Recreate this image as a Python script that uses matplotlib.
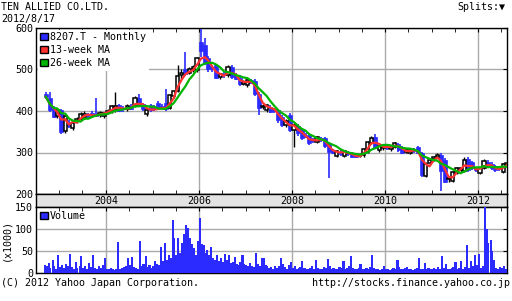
import numpy as np
import pandas as pd
import matplotlib
matplotlib.use("Agg")
import matplotlib.pyplot as plt
from matplotlib.patches import Patch

plt.rcParams["font.family"] = ["DejaVu Sans Mono", "DejaVu Sans"]
plt.rcParams["font.size"] = 7.2

# monthly candles, 2002-09 .. 2012-08
opens = [440, 431, 407, 388, 402, 352, 372, 359, 375, 381,
         383, 392, 395, 393, 390, 388, 396, 400, 402, 414,
         408, 404, 412, 414, 431, 416, 392, 414, 410, 419,
         412, 419, 407, 436, 448, 486, 500, 492, 500, 499,
         566, 560, 528, 505, 511, 482, 490, 487, 506, 487,
         480, 465, 463, 474, 472, 442, 410, 402, 410, 404,
         403, 386, 366, 390, 354, 364, 354, 340, 342, 330,
         325, 334, 335, 323, 305, 292, 302, 292, 300, 299,
         298, 292, 294, 301, 323, 337, 306, 310, 314, 308,
         313, 320, 313, 302, 299, 306, 313, 299, 244, 275,
         284, 289, 294, 282, 235, 231, 251, 258, 255, 284,
         276, 262, 251, 263, 278, 272, 268, 262, 253, 270]
highs = [446, 446, 412, 406, 405, 392, 378, 376, 385, 398,
         400, 396, 400, 432, 400, 398, 404, 414, 446, 418,
         412, 416, 418, 436, 440, 420, 408, 418, 414, 424,
         418, 452, 442, 450, 511, 500, 542, 505, 512, 530,
         598, 575, 532, 512, 514, 492, 494, 512, 510, 492,
         486, 474, 480, 478, 476, 446, 416, 418, 414, 408,
         406, 390, 380, 394, 370, 368, 358, 346, 346, 334,
         340, 338, 338, 326, 308, 306, 306, 306, 304, 302,
         300, 298, 310, 328, 340, 345, 318, 318, 318, 318,
         326, 324, 316, 308, 312, 310, 316, 302, 276, 286,
         292, 298, 298, 286, 242, 256, 266, 266, 290, 288,
         280, 266, 266, 284, 282, 276, 270, 266, 274, 278]
lows = [430, 398, 384, 384, 345, 348, 360, 355, 370, 378,
        380, 384, 386, 385, 386, 384, 392, 396, 398, 398,
        398, 400, 402, 410, 410, 400, 388, 398, 400, 402,
        404, 400, 404, 432, 445, 478, 485, 488, 495, 495,
        530, 512, 495, 495, 476, 478, 480, 482, 478, 474,
        460, 462, 458, 464, 436, 390, 404, 398, 394, 396,
        370, 362, 362, 350, 313, 340, 330, 334, 318, 322,
        322, 326, 312, 239, 296, 288, 292, 288, 292, 286,
        286, 288, 290, 298, 320, 308, 302, 306, 306, 304,
        310, 302, 296, 298, 296, 300, 296, 242, 240, 272,
        280, 286, 207, 226, 230, 228, 248, 252, 252, 254,
        258, 254, 248, 260, 262, 258, 254, 256, 250, 268]
closes = [434, 402, 386, 402, 350, 388, 364, 371, 381, 393,
          392, 388, 390, 389, 396, 396, 400, 411, 412, 401,
          404, 412, 406, 432, 414, 404, 403, 403, 405, 407,
          410, 404, 439, 448, 484, 492, 490, 501, 505, 528,
          545, 516, 502, 500, 480, 488, 486, 506, 482, 478,
          464, 470, 475, 468, 440, 408, 412, 414, 398, 400,
          378, 366, 376, 354, 366, 347, 335, 338, 323, 328,
          337, 330, 316, 301, 300, 304, 296, 304, 296, 289,
          290, 294, 308, 325, 335, 311, 316, 314, 310, 316,
          323, 306, 299, 305, 306, 304, 299, 246, 272, 282,
          288, 294, 255, 229, 238, 253, 263, 262, 282, 258,
          262, 258, 263, 280, 266, 262, 258, 260, 272, 275]

# volume (x1000), twice a month
volume = [18, 15, 22, 12, 30, 15, 10, 40, 14, 18, 12, 20, 16, 44, 14, 10, 25, 12, 15, 38,
          12, 16, 10, 22, 14, 42, 12, 10, 15, 12, 18, 34, 10, 8, 12, 10, 6, 8, 70, 10,
          12, 14, 16, 34, 18, 37, 14, 12, 10, 72, 16, 20, 38, 14, 18, 12, 16, 27, 20, 18,
          58, 28, 69, 30, 42, 35, 121, 80, 40, 80, 45, 68, 89, 110, 102, 80, 65, 57, 40, 73,
          125, 65, 63, 45, 53, 40, 58, 35, 30, 42, 28, 34, 25, 43, 30, 42, 22, 25, 37, 20,
          18, 25, 42, 20, 18, 15, 22, 16, 14, 45, 20, 15, 34, 35, 18, 15, 12, 14, 10, 16,
          12, 15, 33, 20, 14, 10, 18, 25, 12, 15, 10, 12, 14, 28, 12, 10, 8, 12, 15, 10,
          30, 12, 10, 8, 14, 12, 32, 15, 10, 12, 8, 10, 14, 12, 27, 10, 12, 15, 38, 12,
          10, 8, 12, 20, 10, 8, 12, 10, 14, 42, 12, 8, 10, 6, 10, 15, 8, 10, 6, 10,
          12, 10, 30, 14, 8, 10, 12, 14, 10, 8, 6, 10, 12, 33, 10, 8, 22, 10, 12, 8,
          10, 12, 8, 14, 10, 38, 12, 20, 10, 8, 12, 14, 25, 10, 12, 27, 10, 14, 64, 12,
          28, 15, 42, 18, 44, 12, 16, 150, 100, 68, 76, 50, 30, 12, 10, 14, 12, 15, 10, 14]

year_labels = ["2004", "2006", "2008", "2010", "2012"]
price_ticks = [200, 300, 400, 500, 600]
vol_ticks = [0, 50, 100, 150]

blue = "#2b2bff"
red = "#ff3030"
green = "#00b400"
grid_c = "#aaaaaa"

months = pd.date_range("2002-09-01", periods=len(closes), freq="MS") + pd.Timedelta(days=15)
vdates = pd.date_range("2002-09-01", periods=len(volume), freq="SMS") + pd.Timedelta(days=7)
df = pd.DataFrame({"o": opens, "h": highs, "l": lows, "c": closes}, index=months)
ma13 = df["c"].rolling(3, min_periods=1).mean()
ma26 = df["c"].rolling(6, min_periods=1).mean()

fig = plt.figure(figsize=(5.12, 3.01), dpi=100)
W, H = 512, 301
ax = fig.add_axes([36 / W, 1 - 194 / H, 471 / W, 166 / H])
band = fig.add_axes([36 / W, 1 - 207 / H, 471 / W, 13 / H], sharex=ax)
axv = fig.add_axes([36 / W, 1 - 273 / H, 471 / W, 66 / H], sharex=ax)

x0 = pd.Timestamp("2002-08-22")
x1 = pd.Timestamp("2012-08-15")
years = [pd.Timestamp(f"{y}-01-01") for y in year_labels]
halfyears = pd.date_range("2002-07-01", "2012-12-31", freq="6MS")

up = df["c"] >= df["o"]
down = ~up
# wicks
ax.vlines(df.index[up], df["l"][up], df["h"][up], color="black", lw=1, zorder=3)
ax.vlines(df.index[down], df["l"][down], df["h"][down], color=blue, lw=1.2, zorder=3)
# bodies
body_lo = df[["o", "c"]].min(axis=1)
body_h = (df["c"] - df["o"]).abs().clip(lower=2)
ax.bar(df.index[down], body_h[down], bottom=body_lo[down], width=31,
       color=blue, edgecolor=blue, lw=0.5, zorder=4)
ax.bar(df.index[up], body_h[up], bottom=body_lo[up], width=26,
       color="white", edgecolor="black", lw=1.1, zorder=4)
ax.plot(months, ma13, color=red, lw=1.6, zorder=5)
ax.plot(months, ma26, color=green, lw=1.6, zorder=5)

ax.set_ylim(200, 600)
ax.set_yticks(price_ticks)
ax.set_xlim(x0, x1)
ax.set_xticks(years)
ax.set_xticks(halfyears, minor=True)
ax.grid(True, color=grid_c, lw=1)
ax.set_axisbelow(True)
ax.tick_params(axis="x", which="both", direction="in", top=True, bottom=True,
               length=3, labelbottom=False, color="black")
ax.tick_params(axis="y", direction="in", right=True, left=False, length=3, pad=2)

handles = [Patch(facecolor=blue, edgecolor="black"),
           Patch(facecolor=red, edgecolor="black"),
           Patch(facecolor=green, edgecolor="black")]
leg = ax.legend(handles, ["8207.T - Monthly", "13-week MA", "26-week MA"],
                loc="upper left", handlelength=0.75, handleheight=0.75,
                handletextpad=0.25, labelspacing=0.3, borderaxespad=0.15,
                borderpad=0.25, frameon=True, fancybox=False, framealpha=1,
                edgecolor="none", facecolor="white")
leg.set_zorder(10)

# year band
band.set_facecolor("#e3e3e3")
band.set_ylim(0, 1)
band.set_yticks([])
band.tick_params(axis="x", which="both", length=0, labelbottom=False)
for lab, d in zip(year_labels, years):
    band.text(d, 0.45, lab, ha="center", va="center", fontsize=7.2)

# volume
axv.bar(vdates, volume, width=16.5, color=blue, lw=0, antialiased=False, zorder=3)
axv.set_ylim(0, 150)
axv.set_yticks(vol_ticks)
axv.grid(True, color=grid_c, lw=1)
axv.set_axisbelow(True)
axv.tick_params(axis="x", which="both", direction="in", top=True, bottom=True,
                length=3, labelbottom=False)
axv.tick_params(axis="y", direction="in", right=True, left=False, length=3, pad=2)
axv.legend([Patch(facecolor=blue, edgecolor="black")], ["Volume"], loc="upper left",
           handlelength=0.75, handleheight=0.75, handletextpad=0.25,
           borderaxespad=0.15, borderpad=0.25, frameon=False)

for a in (ax, band, axv):
    for s in a.spines.values():
        s.set_color("black")
        s.set_linewidth(1)

fig.text(1 / W, 1 - 2 / H, "TEN ALLIED CO.LTD.", ha="left", va="top")
fig.text(1 / W, 1 - 14 / H, "2012/8/17", ha="left", va="top")
fig.text(505 / W, 1 - 2 / H, "Splits:\u25bc", ha="right", va="top")
fig.text(6 / W, 1 - 240 / H, "(x1000)", rotation=90, ha="center", va="center")
fig.text(1 / W, 1 - 278.5 / H, "(C) 2012 Yahoo Japan Corporation.", ha="left", va="top")
fig.text(510 / W, 1 - 278.5 / H, "http://stocks.finance.yahoo.co.jp", ha="right", va="top")

fig.savefig("out.png", dpi=100)
